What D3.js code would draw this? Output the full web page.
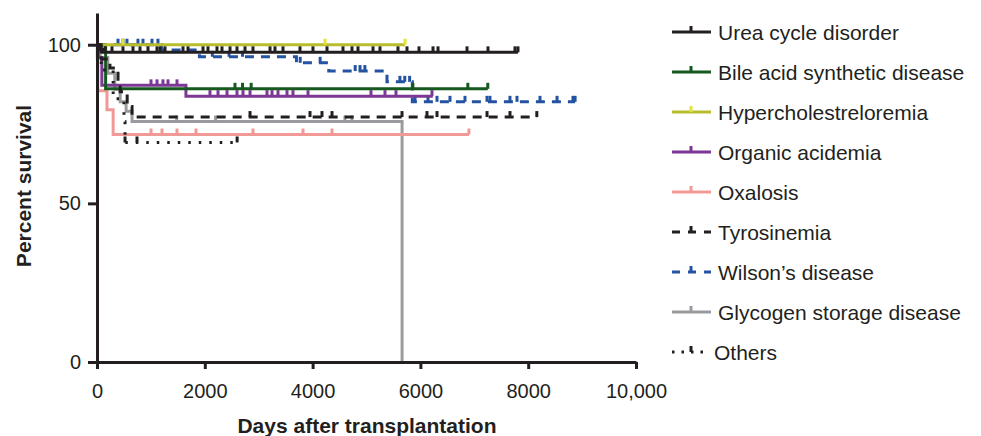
<!DOCTYPE html>
<html>
<head>
<meta charset="utf-8">
<script src="https://cdn.jsdelivr.net/npm/d3@7"></script>
<style>
  body { margin: 0; background: #fff; }
  text { font-family: "Liberation Sans", Arial, Helvetica, sans-serif; fill: #231f20; }
</style>
</head>
<body>
<svg id="chart" width="981" height="436"></svg>
<script>
// Kaplan-Meier style survival curves (days, percent)
const seriesNames = ["Urea cycle disorder", "Bile acid synthetic disease", "Hypercholestreloremia",
  "Organic acidemia", "Oxalosis", "Tyrosinemia", "Wilson\u2019s disease", "Glycogen storage disease", "Others"];

// step points [day, percent survival from that day on]
const ureaSteps = [[0, 100], [40, 98.5], [120, 97.6]];
const bileSteps = [[0, 100], [160, 86.1]];
const hyperSteps = [[0, 100]];
const organicSteps = [[0, 100], [25, 96], [90, 87.2], [1650, 83.8]];
const oxalosisSteps = [[0, 100], [5, 96], [15, 85.5], [185, 79.5], [300, 71.7]];
const tyroSteps = [[0, 100], [80, 95.5], [240, 92.7], [390, 88.5], [430, 85.2], [560, 80.5], [650, 77.2]];
const wilsonSteps = [[0, 100], [1200, 98.3], [1900, 96.2], [3700, 94.3], [4300, 91.7], [5380, 88.3], [5850, 82]];
const glycogenSteps = [[0, 100], [60, 96], [200, 91], [330, 86], [430, 82], [540, 79], [650, 75.8], [5660, 0]];
const othersSteps = [[0, 100], [80, 92], [300, 83], [500, 75.7], [520, 69.2]];

// last follow-up day of each curve
const endDays = [7810, 7250, 5715, 6230, 6900, 8160, 8870, 5660, 2600];

// censored observations (days)
const ureaCensored = [148, 278, 482, 668, 798, 946, 1113, 1169, 1262, 1596, 1688, 1967, 2059, 2226, 2319,
  2468, 2597, 2746, 2894, 3210, 3302, 3451, 3766, 4007, 4267, 4564, 4731, 4842, 5121, 5250, 5584, 5751,
  5974, 6234, 6327, 6865, 7254, 7755, 7810];
const bileCensored = [2560, 2700, 2860, 5860, 6880, 7250];
const hyperCensored = [480, 4230, 5715];
const organicCensored = [1002, 1113, 1224, 1317, 1484, 2096, 2245, 2412, 2597, 2709, 2839, 3154, 3247,
  3358, 3525, 3636, 3915, 5083, 5343, 5547, 6215];
const oxalosisCensored = [1002, 1206, 1484, 1837, 2894, 3822, 4360, 6900];
const tyroCensored = [2839, 3952, 4174, 4360, 5659, 6122, 6308, 7236, 7662, 8160];
const wilsonCensored = [390, 482, 556, 760, 853, 1020, 1131, 2140, 2450, 2700, 3770, 4140, 4790, 4880,
  4970, 5620, 5710, 5800, 5900, 6141, 6308, 6549, 6827, 7236, 7291, 7662, 7792, 8219, 8535, 8831, 8870];
const glycogenCensored = [1480, 2200, 4600, 4730];
const othersCensored = [520, 742, 2600];

const xTicks = [0, 2000, 4000, 6000, 8000, 10000];
const yTicks = [0, 50, 100];

const colors = ["#231f20", "#15591f", "#b8bd2c", "#7d3794", "#f19997", "#231f20", "#2553a3", "#9a9b9f", "#231f20"];
const tickColors = ["#231f20", "#15591f", "#e2e23a", "#7d3794", "#f19997", "#231f20", "#2553a3", "#9a9b9f", "#231f20"];
const dashes = [null, null, null, null, null, "9,7", "9,7", null, "2.5,8"];

const allSteps = [ureaSteps, bileSteps, hyperSteps, organicSteps, oxalosisSteps, tyroSteps, wilsonSteps, glycogenSteps, othersSteps];
const allCensored = [ureaCensored, bileCensored, hyperCensored, organicCensored, oxalosisCensored, tyroCensored, wilsonCensored, glycogenCensored, othersCensored];

const series = seriesNames.map((name, i) => ({
  name: name, steps: allSteps[i], end: endDays[i], censored: allCensored[i],
  color: colors[i], tickColor: tickColors[i], dash: dashes[i]
}));

const svg = d3.select("#chart");
const x = d3.scaleLinear().domain([0, 10000]).range([97, 636]);
const y = d3.scaleLinear().domain([0, 110]).range([362, 13]);

function survivalAt(steps, t) {
  let v = steps[0][1];
  steps.forEach(s => { if (s[0] <= t) v = s[1]; });
  return v;
}

const line = d3.line().x(d => x(d[0])).y(d => y(d[1])).curve(d3.curveStepAfter);

// drawing order so the dark curves sit on top
const order = [7, 6, 4, 3, 1, 2, 5, 8, 0];
const plot = svg.append("g");
order.forEach(i => {
  const s = series[i];
  const pts = s.steps.slice();
  pts.push([s.end, pts[pts.length - 1][1]]);
  plot.append("path")
    .attr("d", line(pts))
    .attr("fill", "none")
    .attr("stroke", s.color)
    .attr("stroke-width", 3)
    .attr("stroke-dasharray", s.dash);
  plot.selectAll(null)
    .data(s.censored)
    .enter().append("line")
    .attr("x1", d => x(d)).attr("x2", d => x(d))
    .attr("y1", d => y(survivalAt(s.steps, d)))
    .attr("y2", d => y(survivalAt(s.steps, d)) - 6)
    .attr("stroke", s.tickColor)
    .attr("stroke-width", 3);
});

// axes
const xAxis = svg.append("g")
  .attr("transform", "translate(0,362)")
  .call(d3.axisBottom(x).tickValues(xTicks).tickSize(7).tickSizeOuter(0)
    .tickFormat(d => d === 10000 ? "10,000" : d));
const yAxis = svg.append("g")
  .attr("transform", "translate(97,0)")
  .call(d3.axisLeft(y).tickValues(yTicks).tickSize(9).tickSizeOuter(0));

[xAxis, yAxis].forEach(a => {
  a.select(".domain").attr("stroke", "#231f20").attr("stroke-width", 3);
  a.selectAll(".tick line").attr("stroke", "#231f20").attr("stroke-width", 3);
  a.selectAll(".tick text").attr("font-size", 20).attr("fill", "#231f20")
    .attr("font-family", "Liberation Sans, Arial, sans-serif");
});
xAxis.selectAll(".tick text").attr("y", 22).attr("dy", "0.71em");
yAxis.selectAll(".tick text").attr("x", -16);

svg.append("text")
  .attr("x", 367).attr("y", 433)
  .attr("text-anchor", "middle")
  .attr("font-size", 21).attr("font-weight", "bold")
  .text("Days after transplantation");

svg.append("text")
  .attr("transform", "translate(31,186) rotate(-90)")
  .attr("text-anchor", "middle")
  .attr("font-size", 21).attr("font-weight", "bold")
  .text("Percent survival");

// legend
const legend = svg.append("g");
series.forEach((s, i) => {
  const ly = 32 + i * 40;
  legend.append("line")
    .attr("x1", 672).attr("x2", i === 8 ? 705 : 711).attr("y1", ly).attr("y2", ly)
    .attr("stroke", s.color).attr("stroke-width", 3)
    .attr("stroke-dasharray", s.dash ? (s.dash === "2.5,8" ? "2.5,7" : "8,8") : null);
  legend.append("line")
    .attr("x1", 691).attr("x2", 691).attr("y1", ly).attr("y2", ly - 6)
    .attr("stroke", s.tickColor).attr("stroke-width", 3);
  legend.append("text")
    .attr("x", i === 8 ? 714 : 718).attr("y", ly)
    .attr("dy", "0.36em")
    .attr("font-size", 21)
    .text(s.name);
});
</script>
</body>
</html>
